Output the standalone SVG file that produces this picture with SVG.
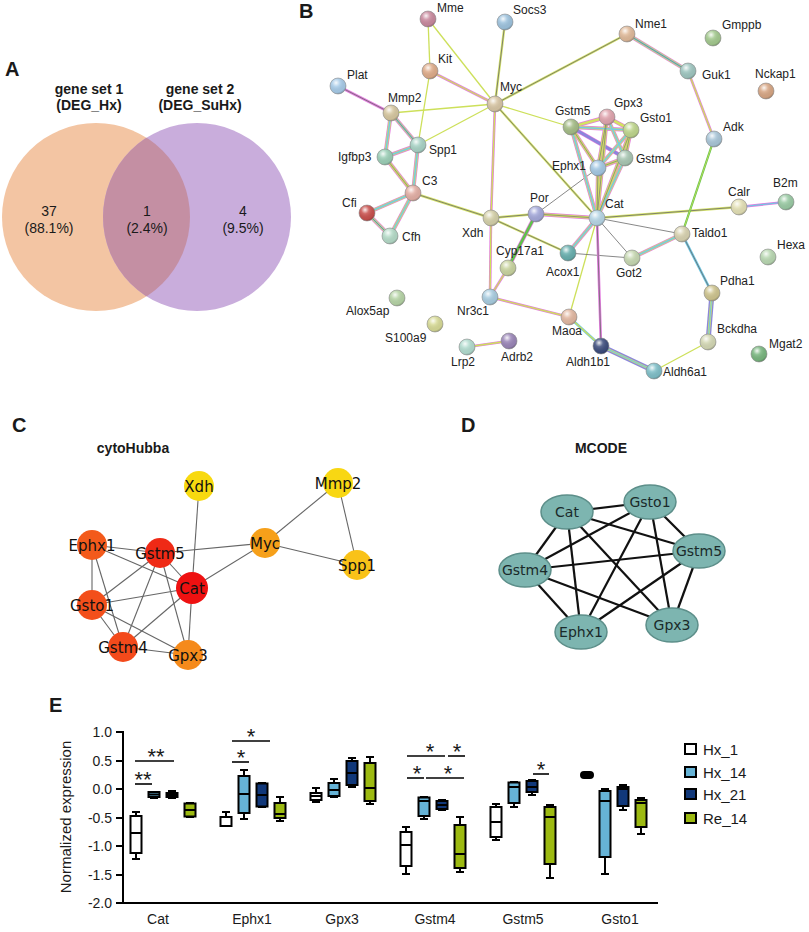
<svg xmlns="http://www.w3.org/2000/svg" width="809" height="932" viewBox="0 0 809 932">
<defs>
<style>
.t{font-family:"Liberation Sans",Arial,sans-serif;fill:#1a1a1a}
.pl{font-size:20px;font-weight:bold}
.hd{font-size:14px;font-weight:bold}
.vn{font-size:14px;text-anchor:middle}
.nb{font-size:12px;fill:#222}
.cy{font-family:"DejaVu Sans",Verdana,sans-serif;font-size:15px;text-anchor:middle;fill:#111}
.mc{font-family:"DejaVu Sans",Verdana,sans-serif;font-size:14px;text-anchor:middle;fill:#1a2a2a}
.ax{font-size:14px}
.st{font-size:22px;text-anchor:middle}
.sph{stroke:#8a8a8a;stroke-width:0.6}
.y{stroke:#cde05a;stroke-width:1.3;fill:none}
.yw{stroke:#d6e46a;stroke-width:2.4;fill:none}
.k{stroke:#6a6a6a;stroke-width:0.8;fill:none}
.pw{stroke:#e37ddf;stroke-width:2.6;fill:none}
.b{stroke:#6fc6e2;stroke-width:1.2;fill:none}
.bw{stroke:#6fc6e2;stroke-width:2.6;fill:none}
.gw{stroke:#5fc24a;stroke-width:2.2;fill:none}
.m1{stroke:#e37ddf;stroke-width:4;fill:none}
.m2{stroke:#d3e262;stroke-width:2.7;fill:none}
.m3{stroke:#76c8e4;stroke-width:1.5;fill:none}
.m4{stroke:#777;stroke-width:0.7;fill:none}
.v1{stroke:#8b86dc;stroke-width:5;fill:none}
.ce{stroke:#666;stroke-width:1.1}
.de{stroke:#111;stroke-width:2.2}
.dn{fill:#7db5b0;stroke:#5d8f8a;stroke-width:1.5}
.bx{stroke:#000;stroke-width:2;fill:none}
.sg{stroke:#000;stroke-width:1.6}
</style>
<radialGradient id="shine" cx="0.38" cy="0.3" r="0.7">
<stop offset="0" stop-color="#fff" stop-opacity="0.9"/>
<stop offset="0.35" stop-color="#fff" stop-opacity="0.15"/>
<stop offset="0.85" stop-color="#000" stop-opacity="0.05"/>
<stop offset="1" stop-color="#000" stop-opacity="0.22"/>
</radialGradient>
<clipPath id="clipL"><circle cx="96" cy="217" r="94"/></clipPath>
</defs>
<rect width="809" height="932" fill="#fff"/>

<!-- Panel A -->
<g id="panelA">
<text class="t pl" x="5" y="76">A</text>
<circle cx="96" cy="217" r="94" fill="#f3c5a3"/>
<circle cx="197" cy="217" r="94" fill="#c9addc"/>
<circle cx="197" cy="217" r="94" fill="#c48fa3" clip-path="url(#clipL)"/>
<text class="t hd" x="89" y="94" text-anchor="middle">gene set 1</text>
<text class="t hd" x="89" y="110" text-anchor="middle">(DEG_Hx)</text>
<text class="t hd" x="200" y="94" text-anchor="middle">gene set 2</text>
<text class="t hd" x="200" y="110" text-anchor="middle">(DEG_SuHx)</text>
<text class="t vn" x="49" y="216">37</text>
<text class="t vn" x="49" y="233">(88.1%)</text>
<text class="t vn" x="147" y="216">1</text>
<text class="t vn" x="147" y="233">(2.4%)</text>
<text class="t vn" x="243" y="216">4</text>
<text class="t vn" x="243" y="233">(9.5%)</text>
</g>

<!-- Panel B -->
<text class="t pl" x="299" y="18">B</text>
<g id="connectorsB">
<g class="y">
<line x1="428" y1="19" x2="430" y2="71"/>
<line x1="428" y1="19" x2="495" y2="104"/>
<line x1="430" y1="71" x2="418" y2="145"/>
<line x1="391" y1="113" x2="495" y2="104"/>
<line x1="418" y1="145" x2="495" y2="104"/>
<line x1="495" y1="104" x2="571" y2="127"/>
<line x1="569" y1="317" x2="597" y2="218"/>
<line x1="654" y1="371" x2="708" y2="342"/>
</g>
<g class="yw">
<line x1="505" y1="22" x2="495" y2="104"/>
<line x1="495" y1="104" x2="627" y2="34"/>
<line x1="495" y1="104" x2="597" y2="218"/>
<line x1="413" y1="193" x2="491" y2="218"/>
<line x1="491" y1="218" x2="536" y2="214"/>
<line x1="491" y1="218" x2="568" y2="253"/>
<line x1="597" y1="218" x2="739" y2="207"/>
</g>
<g class="k">
<line x1="505" y1="22" x2="495" y2="104"/>
<line x1="495" y1="104" x2="627" y2="34"/>
<line x1="495" y1="104" x2="597" y2="218"/>
<line x1="413" y1="193" x2="491" y2="218"/>
<line x1="491" y1="218" x2="536" y2="214"/>
<line x1="491" y1="218" x2="568" y2="253"/>
<line x1="597" y1="218" x2="739" y2="207"/>
<line x1="597" y1="218" x2="682" y2="234"/>
<line x1="597" y1="218" x2="632" y2="258"/>
<line x1="568" y1="253" x2="632" y2="258"/>
<line x1="536" y1="214" x2="598" y2="168"/>
</g>
<g class="pw">
<line x1="430" y1="71" x2="495" y2="104"/>
<line x1="495" y1="104" x2="491" y2="218"/>
<line x1="491" y1="218" x2="490" y2="297"/>
<line x1="490" y1="297" x2="569" y2="317"/>
<line x1="508" y1="268" x2="490" y2="297"/>
<line x1="467" y1="347" x2="509" y2="341"/>
<line x1="688" y1="71" x2="714" y2="139"/>
<line x1="338" y1="86" x2="391" y2="113"/>
<line x1="597" y1="218" x2="601" y2="346"/>
<line x1="739" y1="207" x2="786" y2="202"/>
</g>
<g class="y">
<line x1="430" y1="71" x2="495" y2="104"/>
<line x1="495" y1="104" x2="491" y2="218"/>
<line x1="491" y1="218" x2="490" y2="297"/>
<line x1="490" y1="297" x2="569" y2="317"/>
<line x1="508" y1="268" x2="490" y2="297"/>
<line x1="467" y1="347" x2="509" y2="341"/>
<line x1="688" y1="71" x2="714" y2="139"/>
</g>
<line class="k" x1="338" y1="86" x2="391" y2="113"/>
<line class="k" x1="597" y1="218" x2="601" y2="346"/>
<line class="b" x1="739" y1="207" x2="786" y2="202"/>
<g class="bw">
<line x1="569" y1="317" x2="601" y2="346"/>
<line x1="682" y1="234" x2="712" y2="293"/>
</g>
<line class="y" x1="569" y1="317" x2="601" y2="346"/>
<line class="k" x1="682" y1="234" x2="712" y2="293"/>
<line class="gw" x1="714" y1="139" x2="682" y2="234"/>
<line class="y" x1="714" y1="139" x2="682" y2="234" style="stroke-width:0.8"/>
<g class="v1">
<line x1="601" y1="346" x2="654" y2="371"/>
<line x1="712" y1="293" x2="708" y2="342"/>
</g>
<g class="m2" style="stroke-width:2.4">
<line x1="601" y1="346" x2="654" y2="371"/>
<line x1="712" y1="293" x2="708" y2="342"/>
</g>
<g class="m3" style="stroke-width:1.1">
<line x1="601" y1="346" x2="654" y2="371"/>
<line x1="712" y1="293" x2="708" y2="342"/>
</g>
<g class="m1">
<line x1="391" y1="113" x2="418" y2="145"/>
<line x1="391" y1="113" x2="385" y2="157"/>
<line x1="385" y1="157" x2="418" y2="145"/>
<line x1="418" y1="145" x2="413" y2="193"/>
<line x1="385" y1="157" x2="413" y2="193"/>
<line x1="413" y1="193" x2="367" y2="213"/>
<line x1="413" y1="193" x2="390" y2="236"/>
<line x1="367" y1="213" x2="390" y2="236"/>
<line x1="627" y1="34" x2="688" y2="71"/>
<line x1="536" y1="214" x2="597" y2="218"/>
<line x1="536" y1="214" x2="508" y2="268"/>
<line x1="597" y1="218" x2="568" y2="253"/>
<line x1="682" y1="234" x2="632" y2="258"/>
<line x1="571" y1="127" x2="607" y2="117"/>
<line x1="571" y1="127" x2="631" y2="130"/>
<line x1="571" y1="127" x2="625" y2="158"/>
<line x1="571" y1="127" x2="598" y2="168"/>
<line x1="607" y1="117" x2="631" y2="130"/>
<line x1="607" y1="117" x2="625" y2="158"/>
<line x1="607" y1="117" x2="598" y2="168"/>
<line x1="631" y1="130" x2="625" y2="158"/>
<line x1="631" y1="130" x2="598" y2="168"/>
<line x1="625" y1="158" x2="598" y2="168"/>
<line x1="571" y1="127" x2="597" y2="218"/>
<line x1="607" y1="117" x2="597" y2="218"/>
<line x1="631" y1="130" x2="597" y2="218"/>
<line x1="625" y1="158" x2="597" y2="218"/>
<line x1="598" y1="168" x2="597" y2="218"/>
</g>
<g class="m2">
<line x1="391" y1="113" x2="418" y2="145"/>
<line x1="391" y1="113" x2="385" y2="157"/>
<line x1="385" y1="157" x2="418" y2="145"/>
<line x1="418" y1="145" x2="413" y2="193"/>
<line x1="385" y1="157" x2="413" y2="193"/>
<line x1="413" y1="193" x2="367" y2="213"/>
<line x1="413" y1="193" x2="390" y2="236"/>
<line x1="367" y1="213" x2="390" y2="236"/>
<line x1="627" y1="34" x2="688" y2="71"/>
<line x1="536" y1="214" x2="597" y2="218"/>
<line x1="536" y1="214" x2="508" y2="268" style="stroke:#5fc24a"/>
<line x1="597" y1="218" x2="568" y2="253"/>
<line x1="682" y1="234" x2="632" y2="258"/>
<line x1="571" y1="127" x2="607" y2="117"/>
<line x1="571" y1="127" x2="631" y2="130"/>
<line x1="571" y1="127" x2="625" y2="158" style="stroke:#8b86dc"/>
<line x1="571" y1="127" x2="598" y2="168"/>
<line x1="607" y1="117" x2="631" y2="130"/>
<line x1="607" y1="117" x2="625" y2="158"/>
<line x1="607" y1="117" x2="598" y2="168"/>
<line x1="631" y1="130" x2="625" y2="158"/>
<line x1="631" y1="130" x2="598" y2="168"/>
<line x1="625" y1="158" x2="598" y2="168"/>
<line x1="571" y1="127" x2="597" y2="218"/>
<line x1="607" y1="117" x2="597" y2="218"/>
<line x1="631" y1="130" x2="597" y2="218"/>
<line x1="625" y1="158" x2="597" y2="218"/>
<line x1="598" y1="168" x2="597" y2="218"/>
</g>
<g class="m3">
<line x1="391" y1="113" x2="418" y2="145"/>
<line x1="391" y1="113" x2="385" y2="157"/>
<line x1="385" y1="157" x2="418" y2="145"/>
<line x1="418" y1="145" x2="413" y2="193"/>
<line x1="413" y1="193" x2="367" y2="213"/>
<line x1="413" y1="193" x2="390" y2="236"/>
<line x1="367" y1="213" x2="390" y2="236"/>
<line x1="627" y1="34" x2="688" y2="71"/>
<line x1="597" y1="218" x2="568" y2="253"/>
<line x1="682" y1="234" x2="632" y2="258"/>
<line x1="571" y1="127" x2="631" y2="130"/>
<line x1="607" y1="117" x2="625" y2="158"/>
<line x1="631" y1="130" x2="598" y2="168"/>
<line x1="571" y1="127" x2="597" y2="218"/>
<line x1="625" y1="158" x2="597" y2="218"/>
</g>
<g class="m4">
<line x1="391" y1="113" x2="418" y2="145"/>
<line x1="385" y1="157" x2="413" y2="193"/>
<line x1="367" y1="213" x2="390" y2="236"/>
<line x1="627" y1="34" x2="688" y2="71"/>
<line x1="536" y1="214" x2="597" y2="218"/>
<line x1="571" y1="127" x2="598" y2="168"/>
<line x1="607" y1="117" x2="598" y2="168"/>
<line x1="631" y1="130" x2="625" y2="158"/>
<line x1="625" y1="158" x2="598" y2="168"/>
<line x1="607" y1="117" x2="597" y2="218"/>
<line x1="631" y1="130" x2="597" y2="218"/>
<line x1="598" y1="168" x2="597" y2="218"/>
</g>
</g>

<g id="nodesB">
<g id="b-Mme"><circle cx="428" cy="19" r="8" fill="#c98a9e"/><circle class="sph" cx="428" cy="19" r="8" fill="url(#shine)"/><text class="t nb" x="437" y="12">Mme</text></g>
<g id="b-Socs3"><circle cx="505" cy="22" r="8" fill="#9ec3de"/><circle class="sph" cx="505" cy="22" r="8" fill="url(#shine)"/><text class="t nb" x="513" y="14">Socs3</text></g>
<g id="b-Kit"><circle cx="430" cy="71" r="8" fill="#dfac8a"/><circle class="sph" cx="430" cy="71" r="8" fill="url(#shine)"/><text class="t nb" x="438" y="63">Kit</text></g>
<g id="b-Plat"><circle cx="338" cy="86" r="8" fill="#a7cbe8"/><circle class="sph" cx="338" cy="86" r="8" fill="url(#shine)"/><text class="t nb" x="347" y="79">Plat</text></g>
<g id="b-Myc"><circle cx="495" cy="104" r="8" fill="#d8c6a5"/><circle class="sph" cx="495" cy="104" r="8" fill="url(#shine)"/><text class="t nb" x="500" y="91">Myc</text></g>
<g id="b-Mmp2"><circle cx="391" cy="113" r="8" fill="#d6c7a0"/><circle class="sph" cx="391" cy="113" r="8" fill="url(#shine)"/><text class="t nb" x="388" y="102">Mmp2</text></g>
<g id="b-Spp1"><circle cx="418" cy="145" r="8" fill="#a9d3c6"/><circle class="sph" cx="418" cy="145" r="8" fill="url(#shine)"/><text class="t nb" x="429" y="154">Spp1</text></g>
<g id="b-Igfbp3"><circle cx="385" cy="157" r="8" fill="#9ccfb7"/><circle class="sph" cx="385" cy="157" r="8" fill="url(#shine)"/><text class="t nb" x="338" y="161">Igfbp3</text></g>
<g id="b-C3"><circle cx="413" cy="193" r="8" fill="#e3afa5"/><circle class="sph" cx="413" cy="193" r="8" fill="url(#shine)"/><text class="t nb" x="422" y="185">C3</text></g>
<g id="b-Cfi"><circle cx="367" cy="213" r="8" fill="#c9504d"/><circle class="sph" cx="367" cy="213" r="8" fill="url(#shine)"/><text class="t nb" x="342" y="207">Cfi</text></g>
<g id="b-Cfh"><circle cx="390" cy="236" r="8" fill="#b5dbc8"/><circle class="sph" cx="390" cy="236" r="8" fill="url(#shine)"/><text class="t nb" x="402" y="241">Cfh</text></g>
<g id="b-Xdh"><circle cx="491" cy="218" r="8" fill="#d4d0a9"/><circle class="sph" cx="491" cy="218" r="8" fill="url(#shine)"/><text class="t nb" x="462" y="237">Xdh</text></g>
<g id="b-Por"><circle cx="536" cy="214" r="8" fill="#a5a9da"/><circle class="sph" cx="536" cy="214" r="8" fill="url(#shine)"/><text class="t nb" x="530" y="202">Por</text></g>
<g id="b-Cyp17a1"><circle cx="508" cy="268" r="8" fill="#c9d4a0"/><circle class="sph" cx="508" cy="268" r="8" fill="url(#shine)"/><text class="t nb" x="496" y="255">Cyp17a1</text></g>
<g id="b-Nr3c1"><circle cx="490" cy="297" r="8" fill="#a9cde0"/><circle class="sph" cx="490" cy="297" r="8" fill="url(#shine)"/><text class="t nb" x="457" y="315">Nr3c1</text></g>
<g id="b-Alox5ap"><circle cx="397" cy="298" r="8" fill="#b6d4a6"/><circle class="sph" cx="397" cy="298" r="8" fill="url(#shine)"/><text class="t nb" x="346" y="315">Alox5ap</text></g>
<g id="b-S100a9"><circle cx="435" cy="324" r="8" fill="#d7da96"/><circle class="sph" cx="435" cy="324" r="8" fill="url(#shine)"/><text class="t nb" x="385" y="342">S100a9</text></g>
<g id="b-Lrp2"><circle cx="467" cy="347" r="8" fill="#b2dccf"/><circle class="sph" cx="467" cy="347" r="8" fill="url(#shine)"/><text class="t nb" x="451" y="366">Lrp2</text></g>
<g id="b-Adrb2"><circle cx="509" cy="341" r="8" fill="#9b86b8"/><circle class="sph" cx="509" cy="341" r="8" fill="url(#shine)"/><text class="t nb" x="501" y="361">Adrb2</text></g>
<g id="b-Maoa"><circle cx="569" cy="317" r="8" fill="#e2b8a2"/><circle class="sph" cx="569" cy="317" r="8" fill="url(#shine)"/><text class="t nb" x="552" y="335">Maoa</text></g>
<g id="b-Aldh1b1"><circle cx="601" cy="346" r="8" fill="#3e4e7e"/><circle class="sph" cx="601" cy="346" r="8" fill="url(#shine)"/><text class="t nb" x="566" y="366">Aldh1b1</text></g>
<g id="b-Aldh6a1"><circle cx="654" cy="371" r="8" fill="#7fbfc8"/><circle class="sph" cx="654" cy="371" r="8" fill="url(#shine)"/><text class="t nb" x="663" y="376">Aldh6a1</text></g>
<g id="b-Nme1"><circle cx="627" cy="34" r="8" fill="#e0ba9a"/><circle class="sph" cx="627" cy="34" r="8" fill="url(#shine)"/><text class="t nb" x="635" y="28">Nme1</text></g>
<g id="b-Gmppb"><circle cx="713" cy="38" r="8" fill="#a3c98e"/><circle class="sph" cx="713" cy="38" r="8" fill="url(#shine)"/><text class="t nb" x="722" y="29">Gmppb</text></g>
<g id="b-Guk1"><circle cx="688" cy="71" r="8" fill="#9fc6c0"/><circle class="sph" cx="688" cy="71" r="8" fill="url(#shine)"/><text class="t nb" x="702" y="79">Guk1</text></g>
<g id="b-Nckap1"><circle cx="766" cy="91" r="8" fill="#d7a684"/><circle class="sph" cx="766" cy="91" r="8" fill="url(#shine)"/><text class="t nb" x="755" y="78">Nckap1</text></g>
<g id="b-Adk"><circle cx="714" cy="139" r="8" fill="#a9c6d8"/><circle class="sph" cx="714" cy="139" r="8" fill="url(#shine)"/><text class="t nb" x="723" y="131">Adk</text></g>
<g id="b-Gstm5"><circle cx="571" cy="127" r="8" fill="#a5bd87"/><circle class="sph" cx="571" cy="127" r="8" fill="url(#shine)"/><text class="t nb" x="555" y="115">Gstm5</text></g>
<g id="b-Gpx3"><circle cx="607" cy="117" r="8" fill="#e0a4ae"/><circle class="sph" cx="607" cy="117" r="8" fill="url(#shine)"/><text class="t nb" x="614" y="107">Gpx3</text></g>
<g id="b-Gsto1"><circle cx="631" cy="130" r="8" fill="#bfd68d"/><circle class="sph" cx="631" cy="130" r="8" fill="url(#shine)"/><text class="t nb" x="640" y="122">Gsto1</text></g>
<g id="b-Gstm4"><circle cx="625" cy="158" r="8" fill="#a9c7b3"/><circle class="sph" cx="625" cy="158" r="8" fill="url(#shine)"/><text class="t nb" x="636" y="163">Gstm4</text></g>
<g id="b-Ephx1"><circle cx="598" cy="168" r="8" fill="#a4c8e3"/><circle class="sph" cx="598" cy="168" r="8" fill="url(#shine)"/><text class="t nb" x="552" y="170">Ephx1</text></g>
<g id="b-Cat"><circle cx="597" cy="218" r="8" fill="#b7d6e6"/><circle class="sph" cx="597" cy="218" r="8" fill="url(#shine)"/><text class="t nb" x="605" y="208">Cat</text></g>
<g id="b-Calr"><circle cx="739" cy="207" r="8" fill="#e3e0b5"/><circle class="sph" cx="739" cy="207" r="8" fill="url(#shine)"/><text class="t nb" x="728" y="196">Calr</text></g>
<g id="b-B2m"><circle cx="786" cy="202" r="8" fill="#9bcba5"/><circle class="sph" cx="786" cy="202" r="8" fill="url(#shine)"/><text class="t nb" x="773" y="187">B2m</text></g>
<g id="b-Taldo1"><circle cx="682" cy="234" r="8" fill="#d8d2b0"/><circle class="sph" cx="682" cy="234" r="8" fill="url(#shine)"/><text class="t nb" x="692" y="237">Taldo1</text></g>
<g id="b-Hexa"><circle cx="768" cy="257" r="8" fill="#b9d8b2"/><circle class="sph" cx="768" cy="257" r="8" fill="url(#shine)"/><text class="t nb" x="777" y="249">Hexa</text></g>
<g id="b-Acox1"><circle cx="568" cy="253" r="8" fill="#68afae"/><circle class="sph" cx="568" cy="253" r="8" fill="url(#shine)"/><text class="t nb" x="546" y="276">Acox1</text></g>
<g id="b-Got2"><circle cx="632" cy="258" r="8" fill="#c7d8b2"/><circle class="sph" cx="632" cy="258" r="8" fill="url(#shine)"/><text class="t nb" x="616" y="277">Got2</text></g>
<g id="b-Pdha1"><circle cx="712" cy="293" r="8" fill="#cec48f"/><circle class="sph" cx="712" cy="293" r="8" fill="url(#shine)"/><text class="t nb" x="720" y="285">Pdha1</text></g>
<g id="b-Bckdha"><circle cx="708" cy="342" r="8" fill="#d4d8b5"/><circle class="sph" cx="708" cy="342" r="8" fill="url(#shine)"/><text class="t nb" x="717" y="333">Bckdha</text></g>
<g id="b-Mgat2"><circle cx="759" cy="354" r="8" fill="#79b67f"/><circle class="sph" cx="759" cy="354" r="8" fill="url(#shine)"/><text class="t nb" x="769" y="348">Mgat2</text></g>
</g>

<!-- Panel C -->
<text class="t pl" x="12" y="432">C</text>
<text class="t hd" x="133" y="453" text-anchor="middle">cytoHubba</text>
<g id="connectorsC" class="ce">
<line x1="92" y1="545" x2="160" y2="553"/>
<line x1="92" y1="545" x2="192" y2="588"/>
<line x1="92" y1="545" x2="92" y2="605"/>
<line x1="92" y1="545" x2="123" y2="647"/>
<line x1="160" y1="553" x2="92" y2="605"/>
<line x1="160" y1="553" x2="123" y2="647"/>
<line x1="160" y1="553" x2="188" y2="655"/>
<line x1="160" y1="553" x2="192" y2="588"/>
<line x1="160" y1="553" x2="265" y2="543"/>
<line x1="192" y1="588" x2="92" y2="605"/>
<line x1="192" y1="588" x2="123" y2="647"/>
<line x1="192" y1="588" x2="188" y2="655"/>
<line x1="192" y1="588" x2="265" y2="543"/>
<line x1="192" y1="588" x2="199" y2="486"/>
<line x1="92" y1="605" x2="123" y2="647"/>
<line x1="92" y1="605" x2="188" y2="655"/>
<line x1="123" y1="647" x2="188" y2="655"/>
<line x1="265" y1="543" x2="338" y2="483"/>
<line x1="265" y1="543" x2="357" y2="565"/>
<line x1="338" y1="483" x2="357" y2="565"/>
</g>
<g id="c-Xdh"><circle cx="199" cy="486" r="15" fill="#f8d90f"/><text class="cy" x="199" y="491.5">Xdh</text></g>
<g id="c-Mmp2"><circle cx="338" cy="483" r="15" fill="#f8d713"/><text class="cy" x="338" y="488.5">Mmp2</text></g>
<g id="c-Spp1"><circle cx="357" cy="565" r="15" fill="#f9c218"/><text class="cy" x="357" y="570.5">Spp1</text></g>
<g id="c-Myc"><circle cx="265" cy="543" r="15" fill="#f6a01a"/><text class="cy" x="265" y="548.5">Myc</text></g>
<g id="c-Ephx1"><circle cx="92" cy="545" r="15" fill="#f35a1b"/><text class="cy" x="92" y="550.5">Ephx1</text></g>
<g id="c-Gsto1"><circle cx="92" cy="605" r="15" fill="#f34f1b"/><text class="cy" x="92" y="610.5">Gsto1</text></g>
<g id="c-Gstm4"><circle cx="123" cy="647" r="15" fill="#f34a1b"/><text class="cy" x="123" y="652.5">Gstm4</text></g>
<g id="c-Gpx3"><circle cx="188" cy="655" r="15" fill="#f58a1b"/><text class="cy" x="188" y="660.5">Gpx3</text></g>
<g id="c-Gstm5"><circle cx="160" cy="553" r="15" fill="#ef2a16"/><text class="cy" x="160" y="558.5">Gstm5</text></g>
<g id="c-Cat"><circle cx="192" cy="588" r="16" fill="#ee1111"/><text class="cy" x="192" y="593.5">Cat</text></g>

<!-- Panel D -->
<text class="t pl" x="461" y="432">D</text>
<text class="t hd" x="601" y="453" text-anchor="middle">MCODE</text>
<g id="connectorsD" class="de">
<line x1="567" y1="512" x2="650" y2="502"/>
<line x1="567" y1="512" x2="525" y2="570"/>
<line x1="567" y1="512" x2="581" y2="632"/>
<line x1="567" y1="512" x2="672" y2="625"/>
<line x1="567" y1="512" x2="699" y2="551"/>
<line x1="650" y1="502" x2="525" y2="570"/>
<line x1="650" y1="502" x2="581" y2="632"/>
<line x1="650" y1="502" x2="672" y2="625"/>
<line x1="650" y1="502" x2="699" y2="551"/>
<line x1="525" y1="570" x2="699" y2="551"/>
<line x1="525" y1="570" x2="672" y2="625"/>
<line x1="525" y1="570" x2="581" y2="632"/>
<line x1="581" y1="632" x2="699" y2="551"/>
<line x1="699" y1="551" x2="672" y2="625"/>
</g>
<g id="d-Cat"><ellipse class="dn" cx="567" cy="512" rx="26" ry="17"/><text class="mc" x="567" y="517">Cat</text></g>
<g id="d-Gsto1"><ellipse class="dn" cx="650" cy="502" rx="26" ry="17"/><text class="mc" x="650" y="507">Gsto1</text></g>
<g id="d-Gstm5"><ellipse class="dn" cx="699" cy="551" rx="26" ry="17"/><text class="mc" x="699" y="556">Gstm5</text></g>
<g id="d-Gpx3"><ellipse class="dn" cx="672" cy="625" rx="26" ry="17"/><text class="mc" x="672" y="630">Gpx3</text></g>
<g id="d-Ephx1"><ellipse class="dn" cx="581" cy="632" rx="26" ry="17"/><text class="mc" x="581" y="637">Ephx1</text></g>
<g id="d-Gstm4"><ellipse class="dn" cx="525" cy="570" rx="26" ry="17"/><text class="mc" x="525" y="575">Gstm4</text></g>

<!-- Panel E -->
<g id="panelE">
<text class="t pl" x="49" y="712">E</text>
<g stroke="#000" stroke-width="2">
<line x1="123" y1="731" x2="123" y2="904"/>
<line x1="122" y1="903" x2="658" y2="903"/>
<line x1="116" y1="732" x2="123" y2="732"/>
<line x1="116" y1="761" x2="123" y2="761"/>
<line x1="116" y1="789" x2="123" y2="789"/>
<line x1="116" y1="818" x2="123" y2="818"/>
<line x1="116" y1="846" x2="123" y2="846"/>
<line x1="116" y1="875" x2="123" y2="875"/>
<line x1="116" y1="903" x2="123" y2="903"/>
</g>
<g class="t ax" text-anchor="end">
<text x="112" y="737">1.0</text>
<text x="112" y="766">0.5</text>
<text x="112" y="794">0.0</text>
<text x="112" y="823">-0.5</text>
<text x="112" y="851">-1.0</text>
<text x="112" y="880">-1.5</text>
<text x="112" y="908">-2.0</text>
</g>
<text class="t" font-size="15" x="0" y="0" text-anchor="middle" transform="translate(71 817) rotate(-90)">Normalized expression</text>
<g class="t ax" text-anchor="middle">
<text x="158" y="924">Cat</text>
<text x="252" y="924">Ephx1</text>
<text x="342" y="924">Gpx3</text>
<text x="435" y="924">Gstm4</text>
<text x="523" y="924">Gstm5</text>
<text x="620" y="924">Gsto1</text>
</g>

<g class="bx">
<path d="M136 812V859M132 812H140M132 859H140"/>
<path d="M154 792V798M150 792H158M150 798H158"/>
<path d="M172 791V798M168 791H176M168 798H176"/>
<path d="M190 803V817M186 803H194M186 817H194"/>
<path d="M226 812V826M222 812H230"/>
<path d="M244 770V819M240 770H248M240 819H248"/>
<path d="M262 783V807M258 783H266M258 807H266"/>
<path d="M280 797V821M276 797H284M276 821H284"/>
<path d="M316 788V802M312 788H320M312 802H320"/>
<path d="M334 779V797M330 779H338M330 797H338"/>
<path d="M352 758V787M348 758H356M348 787H356"/>
<path d="M370 757V804M366 757H374M366 804H374"/>
<path d="M406 827V874M402 827H410M402 874H410"/>
<path d="M424 797V819M420 797H428M420 819H428"/>
<path d="M442 800V810M438 800H446M438 810H446"/>
<path d="M460 817V872M456 817H464M456 872H464"/>
<path d="M496 804V840M492 804H500M492 840H500"/>
<path d="M514 782V807M510 782H518M510 807H518"/>
<path d="M532 780V795M528 780H536M528 795H536"/>
<path d="M550 805V878M546 805H554M546 878H554"/>
<path d="M605 789V874M601 789H609M601 874H609"/>
<path d="M623 785V810M619 785H627M619 810H627"/>
<path d="M641 798V834M637 798H645M637 834H645"/>
</g>
<g stroke="#000" stroke-width="2">
<rect x="130.5" y="816" width="11" height="37" fill="#fff"/>
<rect x="148.5" y="792" width="11" height="5" fill="#66b3d6"/>
<rect x="166.5" y="793" width="11" height="4" fill="#11387a"/>
<rect x="184.5" y="803.5" width="11" height="13" fill="#9dba12"/>
<rect x="220.5" y="817" width="11" height="9" fill="#fff"/>
<rect x="238.5" y="776" width="11" height="37" fill="#66b3d6"/>
<rect x="256.5" y="783.5" width="11" height="23" fill="#11387a"/>
<rect x="274.5" y="803" width="11" height="15" fill="#9dba12"/>
<rect x="310.5" y="793" width="11" height="7" fill="#fff"/>
<rect x="328.5" y="783" width="11" height="13" fill="#66b3d6"/>
<rect x="346.5" y="761" width="11" height="24" fill="#11387a"/>
<rect x="364.5" y="763" width="11" height="38" fill="#9dba12"/>
<rect x="400.5" y="832" width="11" height="34" fill="#fff"/>
<rect x="418.5" y="797.5" width="11" height="18.5" fill="#66b3d6"/>
<rect x="436.5" y="801" width="11" height="8" fill="#11387a"/>
<rect x="454.5" y="825" width="11" height="43" fill="#9dba12"/>
<rect x="490.5" y="807" width="11" height="30" fill="#fff"/>
<rect x="508.5" y="782.5" width="11" height="20.5" fill="#66b3d6"/>
<rect x="526.5" y="781" width="11" height="11" fill="#11387a"/>
<rect x="544.5" y="807" width="11" height="57" fill="#9dba12"/>
<rect x="581" y="772" width="12" height="6" rx="3" fill="#000"/>
<rect x="599.5" y="791" width="11" height="66" fill="#66b3d6"/>
<rect x="617.5" y="787" width="11" height="19" fill="#11387a"/>
<rect x="635.5" y="800" width="11" height="27" fill="#9dba12"/>
</g>
<g stroke="#000" stroke-width="2">
<path d="M130.5 833H141.5M148.5 794.5H159.5M166.5 795H177.5M184.5 810H195.5"/>
<path d="M238.5 794H249.5M256.5 795H267.5M274.5 814H285.5"/>
<path d="M310.5 796H321.5M328.5 790H339.5M346.5 773H357.5M364.5 788H375.5"/>
<path d="M400.5 845H411.5M418.5 801H429.5M436.5 805H447.5M454.5 854H465.5"/>
<path d="M490.5 822H501.5M508.5 787H519.5M526.5 787H537.5M544.5 817H555.5"/>
<path d="M599.5 801H610.5M617.5 789H628.5M635.5 803H646.5"/>
</g>
<g class="sg">
<line x1="135" y1="761" x2="174" y2="761"/>
<line x1="135" y1="784" x2="152" y2="784"/>
<line x1="232" y1="741" x2="270" y2="741"/>
<line x1="232" y1="762" x2="249" y2="762"/>
<line x1="407" y1="756" x2="445" y2="756"/>
<line x1="448" y1="756" x2="465" y2="756"/>
<line x1="407" y1="778" x2="424" y2="778"/>
<line x1="426" y1="778" x2="464" y2="778"/>
<line x1="533" y1="774" x2="549" y2="774"/>
</g>
<g class="t st">
<text x="156" y="764">**</text>
<text x="143" y="787">**</text>
<text x="251" y="744">*</text>
<text x="241" y="765">*</text>
<text x="430" y="759">*</text>
<text x="457" y="759">*</text>
<text x="417" y="781">*</text>
<text x="448" y="781">*</text>
<text x="541" y="777">*</text>
</g>
<g id="legend">
<g stroke="#000" stroke-width="2">
<rect x="685" y="744" width="11" height="10" fill="#fff"/>
<rect x="685" y="767" width="11" height="10" fill="#66b3d6"/>
<rect x="685" y="789" width="11" height="10" fill="#11387a"/>
<rect x="685" y="813" width="11" height="10" fill="#9dba12"/>
</g>
<g class="t" font-size="15">
<text x="703" y="755">Hx_1</text>
<text x="703" y="778">Hx_14</text>
<text x="703" y="800">Hx_21</text>
<text x="703" y="824">Re_14</text>
</g>
</g>
</g>
</svg>
